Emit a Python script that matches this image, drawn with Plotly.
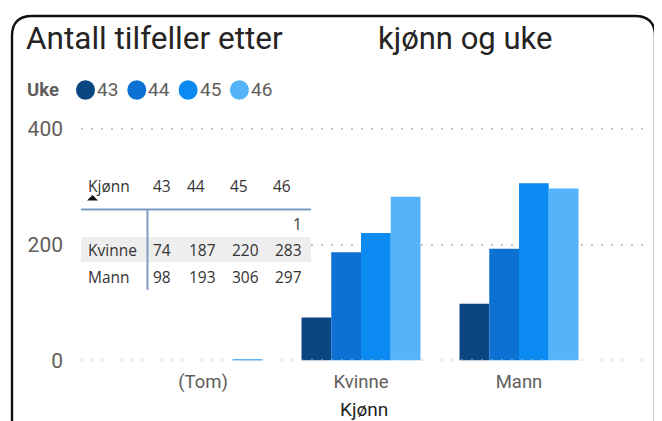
import plotly.graph_objects as go

# ---- data ----
categories = ["(Tom)", "Kvinne", "Mann"]
weeks = ["43", "44", "45", "46"]
v43 = [None, 74, 98]
v44 = [None, 187, 193]
v45 = [None, 220, 306]
v46 = [1, 283, 297]
row_labels = ["", "Kvinne", "Mann"]

series = [v43, v44, v45, v46]
colors = ["#0A4682", "#0D71D4", "#0B8AF2", "#55B3FA"]

W, H = 662, 430
OX, OY = 8, 8    # page body margin offset
SY = 0.97        # observed vertical scale of the photographed page


def px(x):
    return (x - OX) / W


def py(y):
    return 1 - ((y - OY) / SY) / H


TITLE_FONT = "Roboto"
TABLE_FONT = "Open Sans"

fig = go.Figure()
for wk, vals, col in zip(weeks, series, colors):
    fig.add_trace(go.Bar(x=categories, y=vals, name=wk, marker_color=col,
                         marker_line_width=0, showlegend=False))

# axis geometry (screen pixels)
x_l, x_r = 81, 643
c0, step = 203, 158
y0_px, y_top = 359.5, 118
ppu = 231.5 / 400
GRID_DASH = "2px,8px"

fig.update_layout(
    width=W, height=H,
    margin=dict(l=0, r=0, t=0, b=0),
    paper_bgcolor="white", plot_bgcolor="white",
    barmode="group", bargap=0.247, bargroupgap=0,
    xaxis=dict(domain=[px(x_l), px(x_r)],
               range=[(x_l - c0) / step, (x_r - c0) / step],
               showgrid=False, zeroline=False, showline=False,
               tickfont=dict(family=TITLE_FONT, size=18.5, color="#605E5C"),
               ticklabelstandoff=8, fixedrange=True),
    yaxis=dict(domain=[py(y0_px), py(y_top)],
               range=[0, (y0_px - y_top) / ppu],
               tickvals=[0, 200, 400], ticktext=["0", "200", "400"],
               showgrid=True, gridcolor="#C8C6C4", griddash=GRID_DASH, gridwidth=2,
               zeroline=False, showline=False,
               tickfont=dict(family=TITLE_FONT, size=21, color="#605E5C"),
               ticklabelstandoff=17, fixedrange=True),
)

shapes = []
annotations = []

# dotted baseline drawn over the bars, as in the reference
shapes.append(dict(type="line", xref="x domain", yref="y", x0=0, x1=1, y0=0, y1=0,
                   line=dict(color="#C8C6C4", width=2, dash=GRID_DASH), layer="above"))

# frame (rounded)
fx0, fy0, fx1, fy1, r = 12, 15, 655, 460, 20
path = (f"M {px(fx0 + r)} {py(fy0)} L {px(fx1 - r)} {py(fy0)} "
        f"Q {px(fx1)} {py(fy0)} {px(fx1)} {py(fy0 + r)} "
        f"L {px(fx1)} {py(fy1 - r)} Q {px(fx1)} {py(fy1)} {px(fx1 - r)} {py(fy1)} "
        f"L {px(fx0 + r)} {py(fy1)} Q {px(fx0)} {py(fy1)} {px(fx0)} {py(fy1 - r)} "
        f"L {px(fx0)} {py(fy0 + r)} Q {px(fx0)} {py(fy0)} {px(fx0 + r)} {py(fy0)} Z")
shapes.append(dict(type="path", xref="paper", yref="paper", path=path,
                   line=dict(color="#111111", width=2.4), layer="above"))

# title
annotations.append(dict(text="Antall tilfeller etter", x=px(24), y=py(38), xref="paper", yref="paper",
                        xanchor="left", yanchor="middle", showarrow=False,
                        font=dict(family=TITLE_FONT, size=31.5, color="#252423")))
annotations.append(dict(text="kjønn og uke", x=px(376), y=py(38), xref="paper", yref="paper",
                        xanchor="left", yanchor="middle", showarrow=False,
                        font=dict(family=TITLE_FONT, size=31, color="#252423")))

# legend
annotations.append(dict(text="<b>Uke</b>", x=px(25), y=py(89), xref="paper", yref="paper",
                        xanchor="left", yanchor="middle", showarrow=False,
                        font=dict(family=TITLE_FONT, size=18.5, color="#605E5C")))
for i, (wk, col) in enumerate(zip(weeks, colors)):
    cx = 85.5 + i * 51.3
    shapes.append(dict(type="circle", xref="paper", yref="paper",
                       xsizemode="pixel", ysizemode="pixel",
                       xanchor=px(cx), yanchor=py(89),
                       x0=-9.5, x1=9.5, y0=-9.8, y1=9.8,
                       fillcolor=col, line=dict(width=0)))
    annotations.append(dict(text=wk, x=px(cx + 9.5), y=py(89), xref="paper", yref="paper",
                            xanchor="left", yanchor="middle", showarrow=False,
                            font=dict(family=TITLE_FONT, size=19, color="#605E5C")))

# x axis title
annotations.append(dict(text="Kjønn", x=px(364), y=py(409), xref="paper", yref="paper",
                        xanchor="center", yanchor="middle", showarrow=False,
                        font=dict(family=TITLE_FONT, size=19, color="#252423")))

# ---- overlay matrix table ----
shapes.append(dict(type="rect", xref="paper", yref="paper",
                   x0=px(81), x1=px(311), y0=py(236), y1=py(261),
                   fillcolor="#EEEEEE", line=dict(width=0), layer="above"))
shapes.append(dict(type="line", xref="paper", yref="paper",
                   x0=px(81), x1=px(311), y0=py(208.5), y1=py(208.5),
                   line=dict(color="#7E9CC4", width=2), layer="above"))
shapes.append(dict(type="line", xref="paper", yref="paper",
                   x0=px(147.5), x1=px(147.5), y0=py(208.5), y1=py(289),
                   line=dict(color="#7E9CC4", width=2), layer="above"))
# sort arrow
shapes.append(dict(type="path", xref="paper", yref="paper",
                   path=f"M {px(87)} {py(199.5)} L {px(98)} {py(199.5)} L {px(92.5)} {py(194)} Z",
                   fillcolor="#111111", line=dict(width=0), layer="above"))

tfont = dict(family=TABLE_FONT, size=15.5, color="#333333")
annotations.append(dict(text="Kjønn", x=px(86), y=py(185), xref="paper", yref="paper",
                        xanchor="left", yanchor="middle", showarrow=False, font=tfont))
head_x = [151, 185, 228, 271]
val_right = [172, 217, 260, 303]
for wk, hx in zip(weeks, head_x):
    annotations.append(dict(text=wk, x=px(hx), y=py(185), xref="paper", yref="paper",
                            xanchor="left", yanchor="middle", showarrow=False, font=tfont))
row_y = [223, 249, 276]
for ri, (lab, ry) in enumerate(zip(row_labels, row_y)):
    if lab:
        annotations.append(dict(text=lab, x=px(86), y=py(ry), xref="paper", yref="paper",
                                xanchor="left", yanchor="middle", showarrow=False, font=tfont))
    for vals, vx in zip(series, val_right):
        v = vals[ri]
        if v is None:
            continue
        annotations.append(dict(text=str(v), x=px(vx + 1), y=py(ry), xref="paper", yref="paper",
                                xanchor="right", yanchor="middle", showarrow=False, font=tfont))

fig.update_layout(shapes=shapes, annotations=annotations)
fig.write_html("out.html")
